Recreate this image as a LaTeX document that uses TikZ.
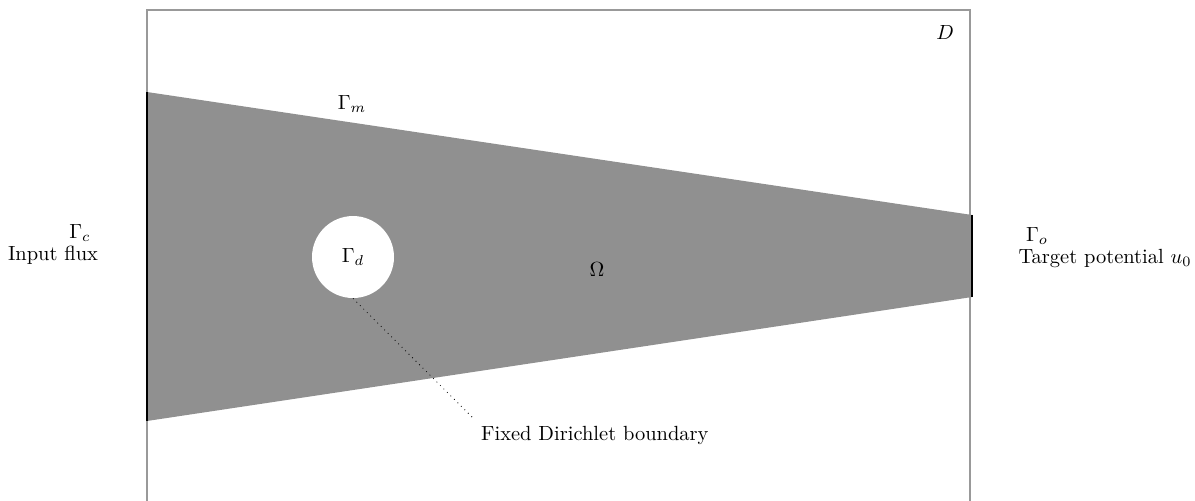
\documentclass[tikz,border=0pt]{standalone}
\usepackage{tikz}
\usetikzlibrary{shapes, positioning}

\definecolor{domfill}{gray}{0.565}
\definecolor{boxline}{gray}{0.6}

\begin{document}
\begin{tikzpicture}
    \useasboundingbox (0,0) rectangle (20.494,8.575);

    % Boite englobante D (le bas sort du cadre)
    \draw[boxline, line width=0.75pt] (2.521,-1) rectangle (16.636,8.404);
    \node (dlabel) at (16.207,8.026) {$D$};

    % Domaine trapezoidal Omega
    \coordinate (tl) at (2.521,6.997);
    \coordinate (bl) at (2.521,1.355);
    \coordinate (tr) at (16.670,4.888);
    \coordinate (br) at (16.670,3.481);
    \fill[domfill] (tl) -- (tr) -- (br) -- (bl) -- cycle;

    % Bords Gamma_c et Gamma_o
    \draw[line width=1.2pt] (tl) -- (bl);
    \draw[line width=1.2pt] (tr) -- (br);

    % Trou circulaire (bord de Dirichlet)
    \node[circle, fill=white, minimum size=1.406cm, inner sep=0pt] (hole) at (6.054,4.167) {$\Gamma_d$};

    % Etiquettes
    \node (gm) at (6.037,6.791) {$\Gamma_m$};
    \node (omega) at (10.239,3.945) {$\Omega$};
    \node (gc) at (1.372,4.579) {$\Gamma_c$};
    \node (flux) at (0.909,4.202) {Input flux};
    \node (go) at (17.785,4.528) {$\Gamma_o$};
    \node (target) at (18.951,4.150) {Target potential $u_0$};
    \node[anchor=north west] (dir) at (8.129,1.389) {Fixed Dirichlet boundary};

    % Ligne pointillee vers l'etiquette
    \draw[dotted] (hole.south) -- (dir.north west);
\end{tikzpicture}
\end{document}
